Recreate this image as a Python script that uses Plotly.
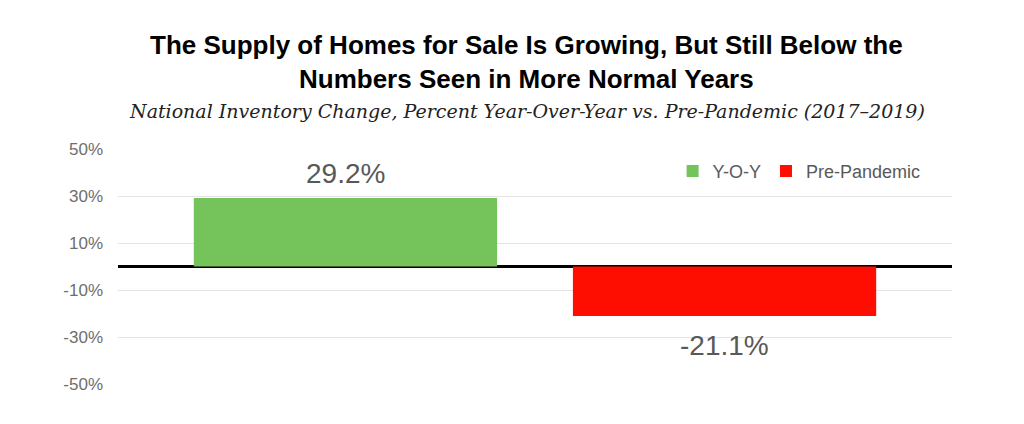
import plotly.graph_objects as go

categories = ["Y-O-Y", "Pre-Pandemic"]
values = [29.2, -21.1]
labels = ["29.2%", "-21.1%"]
colors = ["#74C35B", "#FE0E00"]
tick_vals = [50, 30, 10, -10, -30, -50]
tick_text = ["50%", "30%", "10%", "-10%", "-30%", "-50%"]

SANS = "Liberation Sans, Arial, Helvetica, sans-serif"

fig = go.Figure()
for c, v, col in zip(categories, values, colors):
    fig.add_trace(go.Bar(
        x=[c], y=[v], name=c, width=0.8,
        marker=dict(color=col, line=dict(width=0)),
    ))

annotations = []
for c, v, t in zip(categories, values, labels):
    annotations.append(dict(
        x=c, y=v, xref="x", yref="y", text=t, showarrow=False,
        yanchor="bottom" if v >= 0 else "top",
        yshift=7 if v >= 0 else -12,
        font=dict(family=SANS, size=28, color="#595959"),
    ))

annotations += [
    dict(text="<b>The Supply of Homes for Sale Is Growing, But Still Below the<br>Numbers Seen in More Normal Years</b>",
         xref="paper", yref="paper", x=0.49, y=1.0, xanchor="center", yanchor="bottom",
         yshift=53, showarrow=False, align="center",
         font=dict(family=SANS, size=26, color="black")),
    dict(text="<i>National Inventory Change, Percent Year-Over-Year vs. Pre-Pandemic (2017\u20132019)</i>",
         xref="paper", yref="paper", x=0.49, y=1.0, xanchor="center", yanchor="bottom",
         yshift=25, showarrow=False,
         font=dict(family="DejaVu Serif, Liberation Serif, serif", size=19, color="#222222")),
]

fig.update_layout(
    width=1024, height=424,
    margin=dict(l=118, r=72, t=149, b=40),
    paper_bgcolor="white", plot_bgcolor="white",
    barmode="relative",
    showlegend=True,
    legend=dict(orientation="h", x=0.665, y=0.905, xanchor="left", yanchor="middle",
                font=dict(family=SANS, size=18, color="#595959"),
                bgcolor="rgba(0,0,0,0)", itemwidth=30, traceorder="normal"),
    xaxis=dict(type="category", range=[-0.6, 1.6], showticklabels=False, showgrid=False,
               zeroline=False, showline=False, ticks=""),
    yaxis=dict(range=[-50, 50], tickvals=tick_vals, ticktext=tick_text,
               showgrid=True, gridcolor="#E3E3E8", gridwidth=1,
               zeroline=True, zerolinecolor="black", zerolinewidth=2.5,
               tickfont=dict(family=SANS, size=17, color="#6E6E6E"),
               ticks="", ticklabelstandoff=14, showline=False),
    annotations=annotations,
)

fig.write_html("out.html")
